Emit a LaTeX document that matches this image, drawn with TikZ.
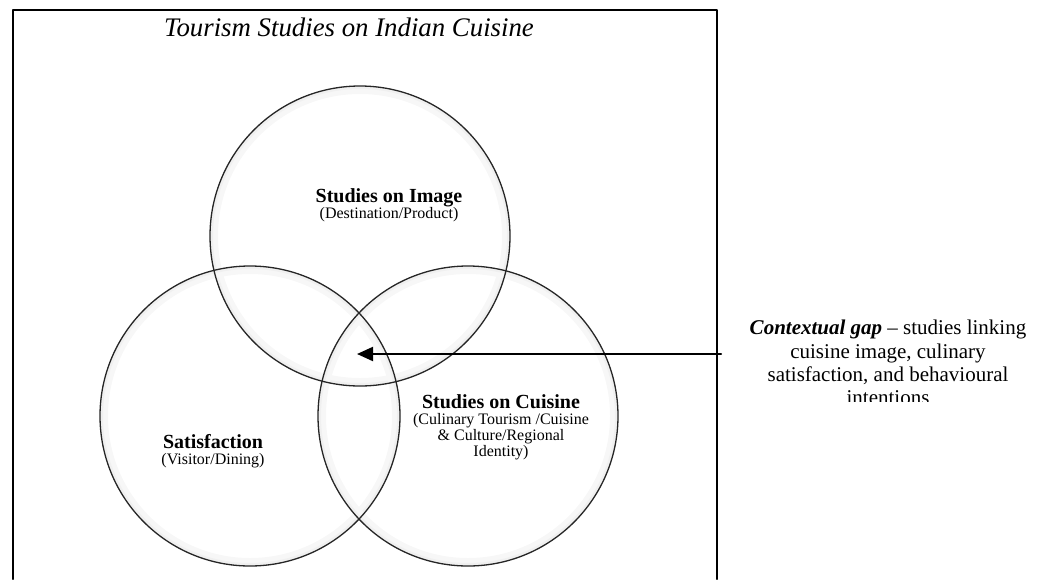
\documentclass[tikz,border=0pt]{standalone}
\usepackage{fontspec}
\setmainfont{Liberation Serif}
\usetikzlibrary{positioning,arrows.meta}

\begin{document}
\begin{tikzpicture}[x=0.5pt,y=-0.5pt,line cap=round,line join=round,
  every node/.style={inner sep=0pt},
  venn/.style={circle,minimum size=150pt,
    path picture={\draw[black!3,line width=8pt] (path picture bounding box.center) circle[radius=75pt];
                  \draw[black!6,line width=3pt] (path picture bounding box.center) circle[radius=75pt];}},
  vennline/.style={draw=black!85,line width=0.65pt},
  labhead/.style={font=\fontsize{10}{12}\selectfont\bfseries},
  labsub/.style={font=\fontsize{8}{8.1}\selectfont,align=center}]
  \useasboundingbox (0,0) rectangle (1044,579);
  % outer frame, open at the bottom
  \draw[line width=1pt] (13,579) -- (13,10) -- (717,10) -- (717,579);
  \node[font=\fontsize{13.4}{15}\selectfont\itshape] (title) at (349,27) {Tourism Studies on Indian Cuisine};
  % the three circles
  \node[venn] (image) at (360,236) {};
  \node[venn] (satis) at (250,416) {};
  \node[venn] (cuisine) at (468,416) {};
  \foreach \c in {image,satis,cuisine}
    \draw[vennline] (\c.center) circle[radius=75pt];
  % circle labels
  \node[labhead,anchor=base] (imagehead) at (389,202) {Studies on Image};
  \node[labsub,below=0pt of imagehead] (imagesub) {(Destination/Product)};
  \node[labhead,anchor=base] (satishead) at (213,448) {Satisfaction};
  \node[labsub,below=2pt of satishead] (satissub) {(Visitor/Dining)};
  \node[labhead,anchor=base] (cuisinehead) at (501,408) {Studies on Cuisine};
  \node[labsub,below=2pt of cuisinehead] (cuisinesub) {(Culinary Tourism /Cuisine\\ \& Culture/Regional\\ Identity)};
  % gap note, cut off at its last line
  \begin{scope}
    \clip (730,300) rectangle (1044,401);
    \node[font=\fontsize{10.5}{11.6}\selectfont,align=center,anchor=north] (gap) at (888,320)
      {\textbf{\textit{Contextual gap}} -- studies linking\\ cuisine image, culinary\\ satisfaction, and behavioural\\ intentions};
  \end{scope}
  \coordinate (gapend) at (721,354);
  \coordinate (core) at (357,354);
  \draw[line width=1pt,-{Triangle[length=8pt,width=7pt]}] (gapend) -- (core);
\end{tikzpicture}
\end{document}
